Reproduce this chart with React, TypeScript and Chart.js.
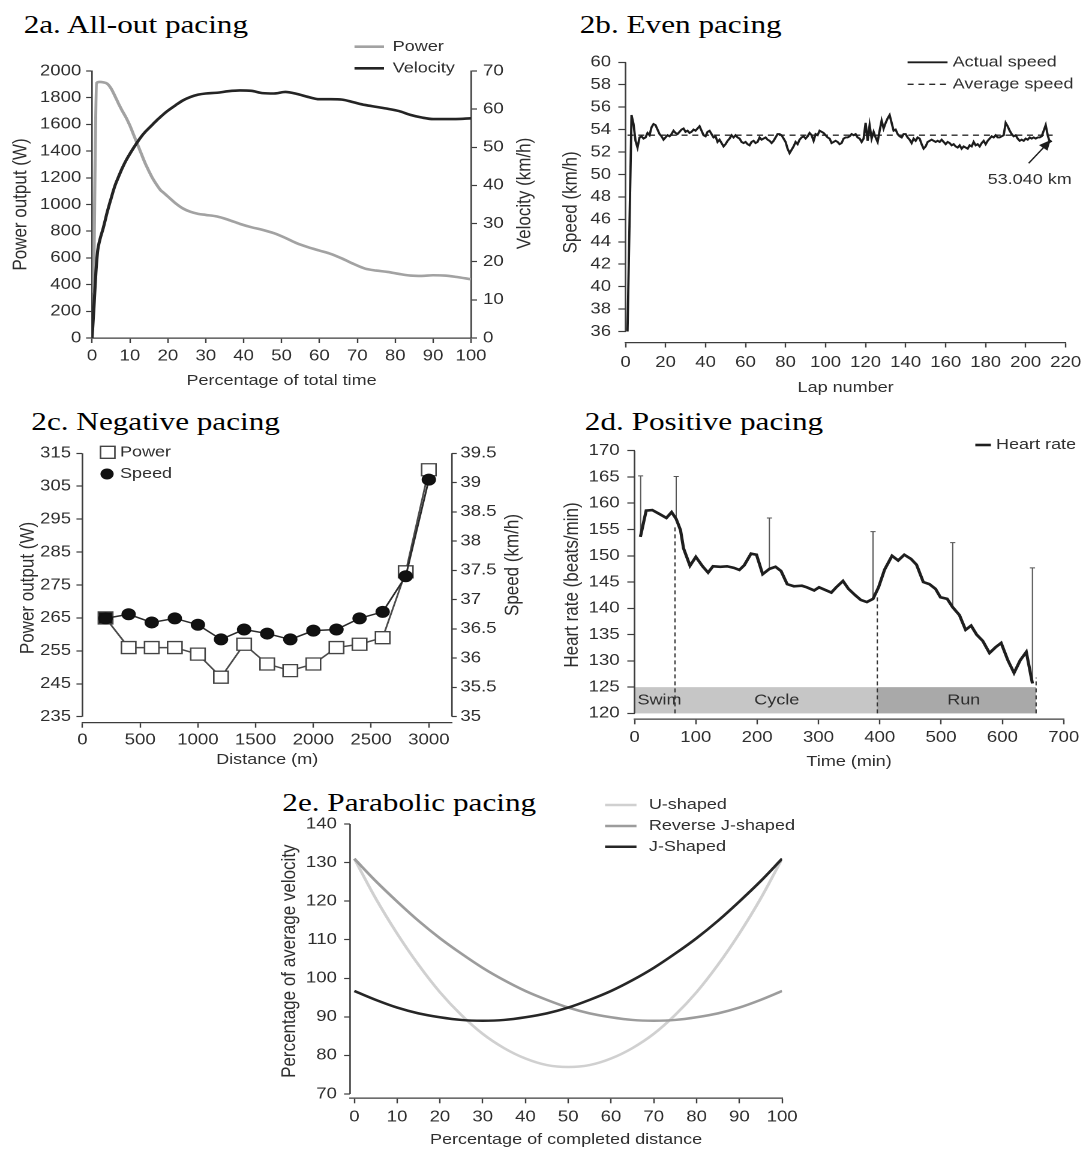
import React, { useEffect, useRef } from "react";
import { Chart, registerables } from "chart.js";

Chart.register(...registerables);

const FONT = "'Liberation Sans', Arial, Helvetica, sans-serif";
const SERIF = "'Liberation Serif', 'Times New Roman', Times, serif";
const INK = "#2e2e2e";
const AXIS = "#3c3c3c";
const STRETCH = 1.2;
const TICK_SIZE = 15.5;
const XTITLE_SIZE = 15;
const YTITLE_SIZE = 17;

// ---------- 2a. All-out pacing ----------
const allOutPowerTime = [0.4, 1.2, 2, 3, 4, 5, 6, 7, 8, 9, 10, 11, 12, 13, 14, 15, 16, 17, 18, 19, 20, 22, 24, 26, 28, 30, 33, 36, 39, 42, 45, 48, 51, 54, 57, 60, 63, 66, 69, 72, 75, 78, 81, 84, 87, 90, 93, 96, 100];
const allOutPower = [340, 1910, 1918, 1915, 1905, 1870, 1815, 1755, 1700, 1650, 1590, 1520, 1450, 1380, 1310, 1250, 1195, 1150, 1110, 1085, 1060, 1010, 970, 945, 930, 922, 910, 885, 855, 830, 810, 785, 750, 710, 680, 655, 630, 595, 555, 520, 505, 495, 480, 468, 465, 470, 468, 458, 440];
const allOutVelocityTime = [0, 0.5, 1, 1.5, 2, 3, 4, 5, 6, 7, 8, 9, 10, 11, 12, 13, 14, 15, 16, 17, 18, 19, 20, 22, 24, 26, 28, 30, 33, 36, 39, 42, 45, 48, 51, 54, 57, 60, 63, 66, 69, 72, 75, 78, 81, 84, 87, 90, 93, 96, 100];
const allOutVelocity = [0, 8, 17, 23, 25.5, 29, 33, 36.5, 39.8, 42.3, 44.6, 46.6, 48.3, 49.9, 51.4, 52.8, 54.0, 55.0, 56.0, 57.0, 57.9, 58.8, 59.6, 61.0, 62.3, 63.2, 63.8, 64.1, 64.3, 64.7, 64.9, 64.8, 64.2, 64.1, 64.5, 64.0, 63.2, 62.6, 62.6, 62.5, 61.8, 61.1, 60.6, 60.1, 59.5, 58.5, 57.8, 57.4, 57.4, 57.4, 57.6];
const allOutPowerTicks = [0, 200, 400, 600, 800, 1000, 1200, 1400, 1600, 1800, 2000];
const allOutVelocityTicks = [0, 10, 20, 30, 40, 50, 60, 70];
const allOutTimeTicks = [0, 10, 20, 30, 40, 50, 60, 70, 80, 90, 100];

// ---------- 2b. Even pacing (one value per lap, lap 1 onwards) ----------
const evenLapSpeed = [
  36.0, 45.6, 55.3, 54.5, 53.0, 52.4, 53.3, 53.4, 53.2, 53.3,
  53.7, 53.5, 54.2, 54.5, 54.4, 54.0, 53.6, 53.4, 53.1, 53.3,
  53.5, 53.4, 53.6, 53.9, 53.7, 53.6, 53.8, 54.0, 54.1, 53.8,
  53.9, 53.7, 53.8, 54.0, 53.9, 54.1, 54.3, 53.9, 53.5, 53.4,
  53.8, 53.9, 53.6, 53.3, 53.4, 52.9, 53.1, 52.8, 52.5, 52.7,
  53.0, 53.2, 53.5, 53.3, 53.5, 53.3, 53.2, 52.9, 52.8, 52.9,
  52.7, 52.6, 52.9, 53.0, 52.8, 52.9, 53.3, 53.1, 53.2, 53.3,
  53.1, 53.0, 52.8, 53.0, 53.3, 53.6, 53.6, 53.5, 53.2, 52.9,
  52.3, 51.9, 52.2, 52.5, 52.9, 52.7, 53.1, 53.3, 53.4, 53.2,
  53.4, 53.7, 53.5, 53.0, 53.6, 53.5, 53.9, 53.8, 53.7, 53.5,
  53.3, 53.2, 52.8, 52.9, 53.0, 52.9, 52.7, 52.8, 53.2, 53.3,
  53.3, 53.4, 53.6, 53.5, 53.6, 53.3, 53.2, 52.9, 53.2, 54.6,
  53.0, 54.4, 53.2, 53.8, 53.3, 52.9, 53.9, 54.8, 54.1, 54.6,
  55.0, 55.3, 54.6, 53.9, 54.0, 53.6, 53.4, 53.3, 53.6, 53.6,
  53.3, 53.1, 52.8, 53.2, 53.0, 53.3, 53.2, 52.7, 52.3, 52.5,
  52.9, 53.0, 53.1, 53.0, 52.9, 53.0, 52.9, 53.1, 52.9, 52.7,
  52.9, 52.8, 52.6, 52.7, 52.5, 52.4, 52.6, 52.3, 52.5, 52.4,
  52.3, 52.6, 52.5, 52.9, 52.6, 52.7, 52.5, 52.8, 53.0, 52.7,
  53.0, 53.2, 53.4, 53.3, 53.5, 53.3, 53.3, 53.4, 53.5, 54.6,
  54.3, 53.9, 53.6, 53.4, 53.5, 53.2, 53.0, 53.1, 53.0, 53.2,
  53.1, 53.3, 53.2, 53.3, 53.2, 53.3, 53.3, 53.4, 53.9, 54.4,
  53.5, 52.9, 53.0,
];
const evenAverageSpeed = 53.5;
const evenAverageLaps = [1, 213.5];
const evenSpeedTicks = [36, 38, 40, 42, 44, 46, 48, 50, 52, 54, 56, 58, 60];
const evenLapTicks = [0, 20, 40, 60, 80, 100, 120, 140, 160, 180, 200, 220];
const evenNote = "53.040 km";
const evenNoteAt = [202, 49.5];
const evenArrowFrom = [201.5, 51.0];
const evenArrowTo = [212.5, 53.07];

// ---------- 2c. Negative pacing ----------
const negDistance = [200, 400, 600, 800, 1000, 1200, 1400, 1600, 1800, 2000, 2200, 2400, 2600, 2800, 3000];
const negPower = [265, 256, 256, 256, 254, 247, 257, 251, 249, 251, 256, 257, 259, 279, 310];
const negSpeed = [36.68, 36.75, 36.61, 36.68, 36.57, 36.32, 36.49, 36.42, 36.32, 36.47, 36.49, 36.68, 36.79, 37.4, 39.05];
const negPowerTicks = [235, 245, 255, 265, 275, 285, 295, 305, 315];
const negSpeedTicks = [35, 35.5, 36, 36.5, 37, 37.5, 38, 38.5, 39, 39.5];
const negDistanceTicks = [0, 500, 1000, 1500, 2000, 2500, 3000];

// ---------- 2d. Positive pacing ----------
const hrTime = [9.6, 19, 29, 40, 52, 60.5, 68, 75, 80, 90.5, 100, 111, 120, 128, 140, 151, 162, 171, 179, 190, 199, 209, 220, 230, 239, 249, 260, 273, 281, 293, 301, 311, 321, 329, 340, 349, 360, 369, 379, 389, 398, 408, 420, 430, 440, 451, 460, 471, 481, 491, 499, 510, 519, 530, 540, 549, 558, 568, 579, 589, 598, 609, 619, 629, 639, 649];
const hrValue = [153.6, 158.6, 158.7, 158.0, 157.2, 158.3, 157.0, 154.9, 151.4, 148.1, 149.8, 148.0, 146.8, 148.0, 147.9, 148.0, 147.7, 147.3, 148.2, 150.4, 150.2, 146.5, 147.5, 147.9, 147.1, 144.6, 144.2, 144.3, 144.0, 143.4, 144.0, 143.5, 143.0, 144.0, 145.2, 143.7, 142.5, 141.6, 141.2, 141.8, 144.0, 147.4, 150.0, 149.1, 150.2, 149.4, 148.3, 145.0, 144.6, 143.7, 142.1, 141.8, 140.2, 138.7, 135.9, 136.7, 135.0, 133.8, 131.5, 132.6, 133.4, 130.1, 127.7, 130.1, 131.7, 125.7];
const hrErrTime = [10, 68, 220, 389, 519, 649];
const hrErrLow = [153.6, 157.0, 147.5, 141.8, 140.2, 125.7];
const hrErrHigh = [165.2, 165.1, 157.2, 154.6, 152.5, 147.7];
const phaseEnd = [66, 396, 655];
const phaseLineTop = [155.8, 142.4, 126.8];
const phaseNames = ["Swim", "Cycle", "Run"];
const phaseLabelAt = [40.7, 232, 537];
const phaseBand = [120, 125];
const hrTicks = [120, 125, 130, 135, 140, 145, 150, 155, 160, 165, 170];
const hrTimeTicks = [0, 100, 200, 300, 400, 500, 600, 700];

// ---------- 2e. Parabolic pacing ----------
const paraDistance = [0, 5, 10, 15, 20, 25, 30, 35, 40, 45, 50, 55, 60, 65, 70, 75, 80, 85, 90, 95, 100];
const paraU = [131, 120.7, 111.6, 103.5, 96.4, 90.5, 85.6, 81.9, 79.2, 77.5, 77, 77.5, 79.2, 81.9, 85.6, 90.5, 96.4, 103.5, 111.6, 120.7, 131];
const paraReverseJ = [131, 125.2, 119.9, 114.9, 110.4, 106.4, 102.7, 99.5, 96.7, 94.4, 92.4, 90.9, 89.9, 89.2, 89, 89.2, 89.9, 90.9, 92.4, 94.4, 96.7];
const paraJ = [96.7, 94.4, 92.4, 90.9, 89.9, 89.2, 89, 89.2, 89.9, 90.9, 92.4, 94.4, 96.7, 99.5, 102.7, 106.4, 110.4, 114.9, 119.9, 125.2, 131];
const paraVelocityTicks = [70, 80, 90, 100, 110, 120, 130, 140];
const paraDistanceTicks = [0, 10, 20, 30, 40, 50, 60, 70, 80, 90, 100];

// ---------- helpers ----------
const pts = (xs: number[], ys: (number | null)[]) => xs.map((x, i) => ({ x, y: ys[i] }));

interface AxisOpts {
  position: "left" | "right" | "bottom";
  min: number;
  max: number;
  ticks: number[];
  size: number;
  tickLength: number;
  pad: number;
  border?: boolean;
  title?: string;
  titlePad?: number;
}

function axis(o: AxisOpts) {
  const horizontal = o.position === "bottom";
  return {
    type: "linear",
    position: o.position,
    min: o.min,
    max: o.max,
    afterBuildTicks: (s: any) => {
      s.ticks = o.ticks.map((value) => ({ value }));
    },
    afterFit: (s: any) => {
      if (horizontal) s.height = o.size;
      else s.width = o.size;
    },
    border: { display: o.border !== false, color: AXIS, width: 1.3 },
    grid: { drawOnChartArea: false, drawTicks: true, tickLength: o.tickLength, tickColor: AXIS, tickWidth: 1.2 },
    ticks: {
      autoSkip: false,
      maxRotation: 0,
      padding: o.pad,
      color: INK,
      font: { family: FONT, size: TICK_SIZE },
      callback: (v: number) => String(v),
    },
    title: o.title
      ? {
          display: true,
          text: o.title,
          color: INK,
          font: { family: FONT, size: horizontal ? XTITLE_SIZE : YTITLE_SIZE },
          padding: horizontal ? { top: 0, bottom: o.titlePad ?? 0 } : { top: o.titlePad ?? 0, bottom: 0 },
        }
      : { display: false },
  };
}

function baseOptions(padTop: number, padRight: number, scales: any) {
  return {
    responsive: false,
    animation: false,
    devicePixelRatio: 2,
    events: [],
    layout: { padding: { top: padTop, right: padRight, left: 0, bottom: 0 } },
    plugins: { legend: { display: false }, tooltip: { enabled: false }, title: { display: false } },
    elements: { point: { radius: 0 } },
    scales,
  };
}

function drawText(
  ctx: CanvasRenderingContext2D,
  s: string,
  x: number,
  y: number,
  o: { align?: CanvasTextAlign; rotate?: number; color?: string; size?: number } = {}
) {
  ctx.save();
  ctx.translate(x, y);
  if (o.rotate) ctx.rotate(o.rotate);
  ctx.font = `${o.size ?? 15}px ${FONT}`;
  ctx.fillStyle = o.color ?? INK;
  ctx.textAlign = o.align ?? "left";
  ctx.textBaseline = "middle";
  ctx.fillText(s, 0, 0);
  ctx.restore();
}

function drawSeg(ctx: CanvasRenderingContext2D, x1: number, y1: number, x2: number, y2: number, color: string, width: number, dash: number[] = []) {
  ctx.save();
  ctx.strokeStyle = color;
  ctx.lineWidth = width;
  ctx.setLineDash(dash);
  ctx.beginPath();
  ctx.moveTo(x1, y1);
  ctx.lineTo(x2, y2);
  ctx.stroke();
  ctx.restore();
}

// vertical axis line that stops at the first and last tick
function drawYBorder(chart: any, id: string, from: number, to: number) {
  const s = chart.scales[id];
  const x = s.position === "left" ? chart.chartArea.left : chart.chartArea.right;
  drawSeg(chart.ctx, x, s.getPixelForValue(from), x, s.getPixelForValue(to), AXIS, 1.3);
}

// ---------- chart builders ----------
const POWER_GREY = "#a2a2a2";
const DARK = "#242424";

function buildAllOut() {
  return {
    type: "line",
    data: {
      datasets: [
        { data: pts(allOutVelocityTime, allOutVelocity), yAxisID: "y1", borderColor: DARK, borderWidth: 2.6, cubicInterpolationMode: "monotone", order: 0 },
        { data: pts(allOutPowerTime, allOutPower), yAxisID: "y", borderColor: POWER_GREY, borderWidth: 2.6, cubicInterpolationMode: "monotone", order: 1 },
      ],
    },
    options: baseOptions(33, 0, {
      x: axis({ position: "bottom", min: 0, max: 100, ticks: allOutTimeTicks, size: 57, tickLength: 5, pad: 4, title: "Percentage of total time", titlePad: 5 }),
      y: axis({ position: "left", min: 0, max: 2000, ticks: allOutPowerTicks, size: 76.7, tickLength: 5, pad: 4, title: "Power output (W)", titlePad: 7.2 }),
      y1: axis({ position: "right", min: 0, max: 70, ticks: allOutVelocityTicks, size: 61.5, tickLength: 5, pad: 5 }),
    }),
    plugins: [
      {
        id: "decor",
        afterDraw(chart: any) {
          const ctx = chart.ctx;
          drawSeg(ctx, 295.4, 8.7, 320, 8.7, POWER_GREY, 2.6);
          drawText(ctx, "Power", 327.3, 8.7);
          drawSeg(ctx, 295.4, 30.3, 320, 30.3, DARK, 2.6);
          drawText(ctx, "Velocity", 327.3, 30.3);
          drawText(ctx, "Velocity (km/h)", 437.4, 155.5, { align: "center", rotate: -Math.PI / 2, size: YTITLE_SIZE });
        },
      },
    ],
  };
}

function buildEven() {
  return {
    type: "line",
    data: {
      datasets: [
        { data: evenLapSpeed.map((v, i) => ({ x: i + 1, y: v })), borderColor: "#1c1c1c", borderWidth: 1.9, tension: 0, order: 0 },
        { data: evenAverageLaps.map((x) => ({ x, y: evenAverageSpeed })), borderColor: "#2a2a2a", borderWidth: 1.4, borderDash: [5, 4], order: 1 },
      ],
    },
    options: baseOptions(24.3, 18.7, {
      x: axis({ position: "bottom", min: 0, max: 220, ticks: evenLapTicks, size: 55.5, tickLength: 5, pad: 6, title: "Lap number", titlePad: 1 }),
      y: axis({ position: "left", min: 35.02, max: 60, ticks: evenSpeedTicks, size: 67.25, tickLength: 6, pad: 6, border: false, title: "Speed (km/h)", titlePad: 11.6 }),
    }),
    plugins: [
      {
        id: "decor",
        afterDraw(chart: any) {
          const ctx = chart.ctx;
          const xs = chart.scales.x;
          const ys = chart.scales.y;
          drawYBorder(chart, "y", 60, 36);
          drawSeg(ctx, 302.3, 24.3, 335.6, 24.3, "#1c1c1c", 1.8);
          drawText(ctx, "Actual speed", 339.9, 24.3);
          drawSeg(ctx, 302.3, 46.3, 335.6, 46.3, "#2a2a2a", 1.4, [5, 4]);
          drawText(ctx, "Average speed", 339.9, 46.3);
          // pointer to the final lap
          const x1 = xs.getPixelForValue(evenArrowFrom[0]);
          const y1 = ys.getPixelForValue(evenArrowFrom[1]);
          const x2 = xs.getPixelForValue(evenArrowTo[0]);
          const y2 = ys.getPixelForValue(evenArrowTo[1]);
          drawSeg(ctx, x1, y1, x2, y2, "#1c1c1c", 1.3);
          const a = Math.atan2(y2 - y1, x2 - x1);
          ctx.save();
          ctx.fillStyle = "#1c1c1c";
          ctx.beginPath();
          ctx.moveTo(x2, y2);
          ctx.lineTo(x2 - 10 * Math.cos(a) + 4.5 * Math.sin(a), y2 - 10 * Math.sin(a) - 4.5 * Math.cos(a));
          ctx.lineTo(x2 - 10 * Math.cos(a) - 4.5 * Math.sin(a), y2 - 10 * Math.sin(a) + 4.5 * Math.cos(a));
          ctx.closePath();
          ctx.fill();
          ctx.restore();
          drawText(ctx, evenNote, xs.getPixelForValue(evenNoteAt[0]), ys.getPixelForValue(evenNoteAt[1]), { align: "center" });
        },
      },
    ],
  };
}

function buildNegative() {
  return {
    type: "line",
    data: {
      datasets: [
        {
          data: pts(negDistance, negSpeed),
          yAxisID: "y1",
          borderColor: "#2a2a2a",
          borderWidth: 1.5,
          tension: 0,
          pointStyle: "circle",
          pointRadius: 5.5,
          pointBackgroundColor: "#111111",
          pointBorderColor: "#111111",
          pointBorderWidth: 1,
          order: 0,
        },
        {
          data: pts(negDistance, negPower),
          yAxisID: "y",
          borderColor: "#4a4a4a",
          borderWidth: 1.5,
          tension: 0,
          pointStyle: "rect",
          pointRadius: 8.5,
          pointBackgroundColor: negPower.map((_, i) => (i === 0 ? "#111111" : "#ffffff")),
          pointBorderColor: "#444444",
          pointBorderWidth: 1.3,
          order: 1,
        },
      ],
    },
    options: baseOptions(18.3, 0, {
      x: axis({ position: "bottom", min: 0, max: 3200, ticks: negDistanceTicks, size: 52.3, tickLength: 5, pad: 3.3, title: "Distance (m)", titlePad: 6 }),
      y: axis({ position: "left", min: 233.18, max: 315, ticks: negPowerTicks, size: 68.7, tickLength: 5, pad: 4.5, border: false, title: "Power output (W)", titlePad: 13 }),
      y1: axis({ position: "right", min: 34.897, max: 39.5, ticks: negSpeedTicks, size: 77.4, tickLength: 4, pad: 3, border: false }),
    }),
    plugins: [
      {
        id: "decor",
        afterDraw(chart: any) {
          const ctx = chart.ctx;
          drawYBorder(chart, "y", 315, 235);
          drawYBorder(chart, "y1", 39.5, 35);
          ctx.save();
          ctx.fillStyle = "#ffffff";
          ctx.strokeStyle = "#444444";
          ctx.lineWidth = 1.3;
          ctx.beginPath();
          ctx.rect(89.75 - 6, 17.3 - 6, 12, 12);
          ctx.fill();
          ctx.stroke();
          ctx.fillStyle = "#111111";
          ctx.beginPath();
          ctx.arc(89.2, 39, 5.5, 0, Math.PI * 2);
          ctx.fill();
          ctx.restore();
          drawText(ctx, "Power", 100, 17.3);
          drawText(ctx, "Speed", 100, 39);
          drawText(ctx, "Speed (km/h)", 427.25, 130, { align: "center", rotate: -Math.PI / 2, size: YTITLE_SIZE });
        },
      },
    ],
  };
}

function buildPositive() {
  const errData: any[] = [];
  hrErrTime.forEach((t, i) => {
    errData.push({ x: t, y: hrErrLow[i] }, { x: t, y: hrErrHigh[i] }, { x: t, y: null });
  });
  const phaseData: any[] = [];
  phaseEnd.forEach((t, i) => {
    phaseData.push({ x: t, y: phaseBand[0] }, { x: t, y: phaseLineTop[i] }, { x: t, y: null });
  });
  return {
    type: "line",
    data: {
      datasets: [
        { data: pts(hrTime, hrValue), borderColor: "#1e1e1e", borderWidth: 2.6, tension: 0, order: 0 },
        {
          data: errData,
          borderColor: "#555555",
          borderWidth: 1,
          spanGaps: false,
          pointStyle: "line",
          pointRadius: errData.map((_, i) => (i % 3 === 1 ? 2.2 : 0)),
          pointBorderColor: "#555555",
          pointBorderWidth: 1,
          order: 1,
        },
        { data: phaseData, borderColor: "#333333", borderWidth: 1.1, borderDash: [4, 3], spanGaps: false, order: 2 },
      ],
    },
    options: baseOptions(10.7, 20.6, {
      x: axis({ position: "bottom", min: 0, max: 700, ticks: hrTimeTicks, size: 55.7, tickLength: 5, pad: 4, title: "Time (min)", titlePad: 4.3 }),
      y: axis({ position: "left", min: 118.88, max: 170, ticks: hrTicks, size: 74.75, tickLength: 6, pad: 6.4, border: false, title: "Heart rate (beats/min)", titlePad: 12.5 }),
    }),
    plugins: [
      {
        id: "decor",
        beforeDatasetsDraw(chart: any) {
          const ctx = chart.ctx;
          const xs = chart.scales.x;
          const ys = chart.scales.y;
          const yTop = ys.getPixelForValue(phaseBand[1]);
          const yBot = ys.getPixelForValue(phaseBand[0]);
          const x0 = xs.getPixelForValue(0);
          const x1 = xs.getPixelForValue(phaseEnd[1]);
          const x2 = xs.getPixelForValue(phaseEnd[2]);
          ctx.save();
          ctx.fillStyle = "#c6c6c6";
          ctx.fillRect(x0, yTop, x1 - x0, yBot - yTop);
          ctx.fillStyle = "#a9a9a9";
          ctx.fillRect(x1, yTop, x2 - x1, yBot - yTop);
          ctx.restore();
          const ym = ys.getPixelForValue((phaseBand[0] + phaseBand[1]) / 2);
          phaseNames.forEach((n, i) => drawText(ctx, n, xs.getPixelForValue(phaseLabelAt[i]), ym, { align: "center" }));
        },
        afterDraw(chart: any) {
          const ctx = chart.ctx;
          drawYBorder(chart, "y", 170, 120);
          drawSeg(ctx, 358.75, 10, 371.75, 10, "#1e1e1e", 2.6);
          drawText(ctx, "Heart rate", 376, 10);
        },
      },
    ],
  };
}

const U_GREY = "#d0d0d0";
const RJ_GREY = "#9c9c9c";
const J_DARK = "#262626";

function buildParabolic() {
  return {
    type: "line",
    data: {
      datasets: [
        { data: pts(paraDistance, paraJ), borderColor: J_DARK, borderWidth: 2.5, cubicInterpolationMode: "monotone", order: 0 },
        { data: pts(paraDistance, paraReverseJ), borderColor: RJ_GREY, borderWidth: 2.5, cubicInterpolationMode: "monotone", order: 1 },
        { data: pts(paraDistance, paraU), borderColor: U_GREY, borderWidth: 2.5, cubicInterpolationMode: "monotone", order: 2 },
      ],
    },
    options: baseOptions(34, 56.25, {
      x: axis({ position: "bottom", min: -1, max: 100, ticks: paraDistanceTicks, size: 52.7, tickLength: 5, pad: 4.4, title: "Percentage of completed distance", titlePad: 2 }),
      y: axis({ position: "left", min: 68.885, max: 140, ticks: paraVelocityTicks, size: 99.7, tickLength: 5, pad: 6, border: false, title: "Percentage of average velocity", titlePad: 38.9 }),
    }),
    plugins: [
      {
        id: "decor",
        afterDraw(chart: any) {
          const ctx = chart.ctx;
          drawYBorder(chart, "y", 140, 70);
          drawSeg(ctx, 312.2, 15, 338.4, 15, U_GREY, 2.5);
          drawText(ctx, "U-shaped", 348.7, 15);
          drawSeg(ctx, 312.2, 36, 338.4, 36, RJ_GREY, 2.5);
          drawText(ctx, "Reverse J-shaped", 348.7, 36);
          drawSeg(ctx, 312.2, 56.7, 338.4, 56.7, J_DARK, 2.5);
          drawText(ctx, "J-Shaped", 348.7, 56.7);
        },
      },
    ],
  };
}

// ---------- components ----------
type Box = { left: number; top: number; width: number; height: number };

function Panel({ box, build }: { box: Box; build: () => any }) {
  const ref = useRef<HTMLCanvasElement>(null);
  useEffect(() => {
    const chart = new Chart(ref.current as HTMLCanvasElement, build());
    return () => chart.destroy();
  }, []);
  return (
    <canvas
      ref={ref}
      width={box.width}
      height={box.height}
      style={{ position: "absolute", left: box.left, top: box.top, width: box.width, height: box.height }}
    />
  );
}

function Heading({ text, left, cy }: { text: string; left: number; cy: number }) {
  return (
    <div
      style={{
        position: "absolute",
        left,
        top: cy - 15,
        font: `26px ${SERIF}`,
        lineHeight: "30px",
        color: "#000",
        whiteSpace: "nowrap",
      }}
    >
      {text}
    </div>
  );
}

export default function App() {
  return (
    <div
      style={{
        position: "absolute",
        left: 0,
        top: 0,
        width: 907,
        height: 1151,
        background: "#ffffff",
        transform: `scaleX(${STRETCH})`,
        transformOrigin: "0 0",
        overflow: "hidden",
      }}
    >
      <Heading text="2a. All-out pacing" left={19.7} cy={25} />
      <Heading text="2b. Even pacing" left={483.1} cy={25} />
      <Heading text="2c. Negative pacing" left={26.1} cy={421.7} />
      <Heading text="2d. Positive pacing" left={487.4} cy={421.7} />
      <Heading text="2e. Parabolic pacing" left={235.25} cy={803.3} />
      <Panel box={{ left: 0, top: 38, width: 454, height: 357 }} build={buildAllOut} />
      <Panel box={{ left: 454, top: 38, width: 453, height: 360 }} build={buildEven} />
      <Panel box={{ left: 0, top: 435, width: 454, height: 340 }} build={buildNegative} />
      <Panel box={{ left: 454, top: 435, width: 453, height: 340 }} build={buildPositive} />
      <Panel box={{ left: 192, top: 790, width: 516, height: 361 }} build={buildParabolic} />
    </div>
  );
}
